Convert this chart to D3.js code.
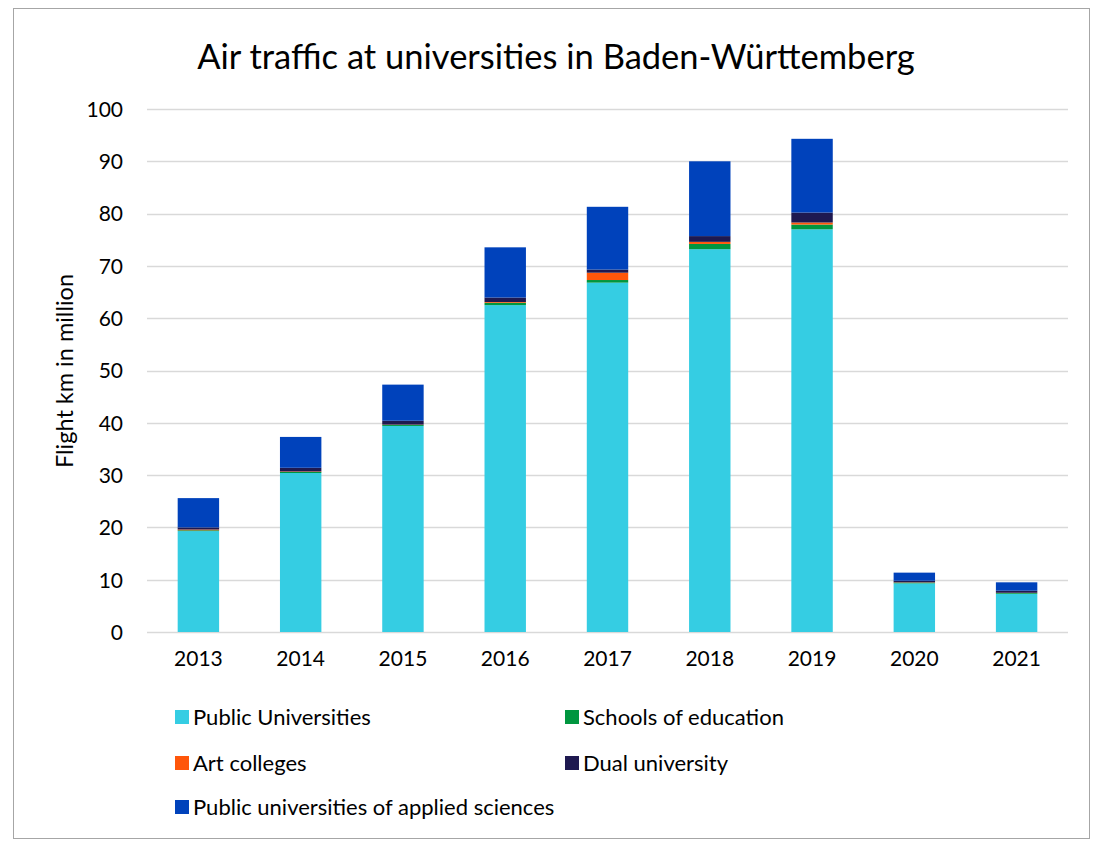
<!DOCTYPE html>
<html>
<head>
<meta charset="utf-8">
<script src="https://cdn.jsdelivr.net/npm/d3@7"></script>
<style>
  body { margin: 0; background: #fff; }
  text { font-family: Lato, "Open Sans", sans-serif; fill: #000; }
</style>
</head>
<body>
<div id="container-div"></div>
<script>
// data
var years = ["2013", "2014", "2015", "2016", "2017", "2018", "2019", "2020", "2021"];
var seriesNames = ["Public Universities", "Schools of education", "Art colleges", "Dual university", "Public universities of applied sciences"];
var publicUni   = [19.3, 30.4, 39.4, 62.5, 66.8, 73.2, 77.0, 9.3, 7.3];
var schoolsEdu  = [0.15, 0.2, 0.2, 0.45, 0.5, 1.0, 0.9, 0.15, 0.15];
var artColleges = [0.15, 0.1, 0.05, 0.15, 1.4, 0.4, 0.4, 0.05, 0.05];
var dualUni     = [0.4, 0.7, 0.75, 0.85, 0.6, 1.1, 1.9, 0.3, 0.4];
var appliedSci  = [5.6, 5.9, 6.9, 9.6, 12.0, 14.3, 14.1, 1.55, 1.6];
var yTicks = [0, 10, 20, 30, 40, 50, 60, 70, 80, 90, 100];

var colors = ["#35cde3", "#00963f", "#ff560a", "#1e1950", "#0042bb"];
var keys = ["pub", "sch", "art", "dual", "app"];

var table = years.map(function (y, i) {
    return { year: y, pub: publicUni[i], sch: schoolsEdu[i], art: artColleges[i], dual: dualUni[i], app: appliedSci[i] };
});

var W = 1102, H = 844;
var viz = d3.select("#container-div").append("svg")
    .attr("width", W)
    .attr("height", H);

// outer frame
viz.append("rect")
    .attr("x", 13.5).attr("y", 8.5)
    .attr("width", 1076).attr("height", 830)
    .attr("fill", "#fff")
    .attr("stroke", "#a6a6a6")
    .attr("stroke-width", 1);

var plotL = 147, plotR = 1068, plotT = 109, plotB = 632;

var x = d3.scaleBand().domain(years).range([plotL, plotR]).paddingInner(0.595).paddingOuter(0.3);
var y = d3.scaleLinear().domain([0, 100]).range([plotB, plotT]);

// gridlines
viz.append("g").selectAll("line").data(yTicks).enter()
    .append("line")
    .attr("x1", plotL).attr("x2", plotR)
    .attr("y1", function (d) { return Math.round(y(d)) + 0.5; })
    .attr("y2", function (d) { return Math.round(y(d)) + 0.5; })
    .attr("stroke", "#d9d9d9")
    .attr("stroke-width", 1.3);

// y axis labels
var yAxis = d3.axisLeft(y).tickValues(yTicks).tickSize(0).tickPadding(0);
var gy = viz.append("g").attr("transform", "translate(123,0)").call(yAxis);
gy.select(".domain").remove();
gy.selectAll("text").style("font-size", "21px").style("font-family", "Lato, sans-serif").attr("fill", "#000").attr("dy", "0.35em");

// x axis labels
var xAxis = d3.axisBottom(x).tickSize(0).tickPadding(0);
var gx = viz.append("g").attr("transform", "translate(0," + 651 + ")").call(xAxis);
gx.select(".domain").remove();
gx.selectAll("text").style("font-size", "21px").style("font-family", "Lato, sans-serif").attr("fill", "#000").attr("dy", "0.71em");

// stacked bars
var stacked = d3.stack().keys(keys)(table);
var layers = viz.append("g").selectAll("g").data(stacked).enter()
    .append("g")
    .attr("fill", function (d, i) { return colors[i]; });

layers.selectAll("rect").data(function (d) { return d; }).enter()
    .append("rect")
    .attr("x", function (d) { return x(d.data.year); })
    .attr("width", x.bandwidth())
    .attr("y", function (d) { return y(d[1]); })
    .attr("height", function (d) { return y(d[0]) - y(d[1]); });

// title
viz.append("text")
    .attr("x", 556).attr("y", 69)
    .attr("text-anchor", "middle")
    .style("font-size", "34.5px")
    .text("Air traffic at universities in Baden-Württemberg");

// y label
viz.append("text")
    .attr("transform", "translate(73,371) rotate(-90)")
    .attr("text-anchor", "middle")
    .style("font-size", "23.5px")
    .text("Flight km in million");

// legend
var legendPos = [[175, 717], [565, 717], [175, 763], [565, 763], [175, 807]];
var legend = viz.append("g").selectAll("g").data(seriesNames).enter()
    .append("g")
    .attr("transform", function (d, i) { return "translate(" + legendPos[i][0] + "," + legendPos[i][1] + ")"; });

legend.append("rect")
    .attr("x", 0).attr("y", -7)
    .attr("width", 14).attr("height", 14)
    .attr("fill", function (d, i) { return colors[i]; });

legend.append("text")
    .attr("x", 18).attr("y", 0)
    .attr("dy", "0.35em")
    .style("font-size", "22px")
    .text(function (d) { return d; });
</script>
</body>
</html>
